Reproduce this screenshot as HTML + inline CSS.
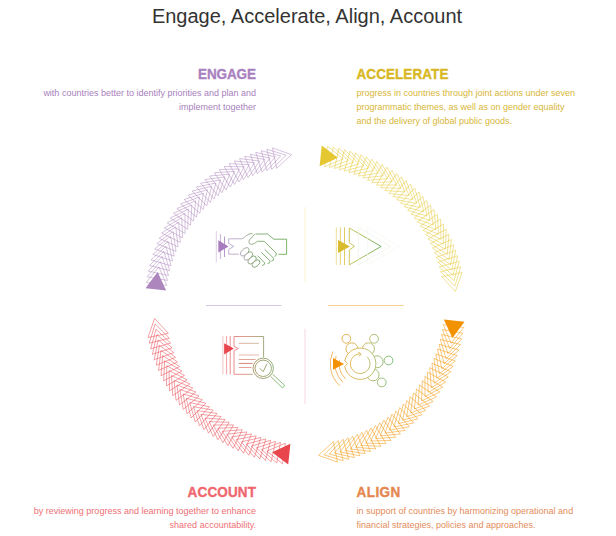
<!DOCTYPE html>
<html><head><meta charset="utf-8">
<style>
html,body{margin:0;padding:0;background:#fff;}
body{width:616px;height:536px;position:relative;overflow:hidden;font-family:"Liberation Sans",sans-serif;}
.t{position:absolute;white-space:nowrap;}
.title{left:-1px;width:616px;text-align:center;top:4.2px;font-size:20px;line-height:24px;color:#333;}
.h{font-size:13.5px;line-height:16px;font-weight:bold;-webkit-text-stroke:0.35px currentColor;transform:scaleY(1.065);transform-origin:0 12.7px;}
.b{font-size:9px;line-height:14px;}
.r{text-align:right;right:360px;}
.l{left:356.5px;}
.pu{color:#a981bf}
.ye{color:#d8b822}
.or{color:#e5874c}
.rd{color:#ef666e}
.pub{color:#a87fbd}
.yeb{color:#d8b638}
.orb{color:#e38c5a}
.rdb{color:#ee6f75}
svg{position:absolute;left:0;top:0;}
</style></head><body>
<div class="t title">Engage, Accelerate, Align, Account</div>

<div class="t h r pu" style="top:66.7px;letter-spacing:-0.1px;right:360.1px">ENGAGE</div>
<div class="t b r pub" style="top:85.9px">with countries better to identify priorities and plan and<br>implement together</div>

<div class="t h l ye" style="top:66.7px;letter-spacing:0.07px">ACCELERATE</div>
<div class="t b l yeb" style="top:85.9px">progress in countries through joint actions under seven<br>programmatic themes, as well as on gender equality<br>and the delivery of global public goods.</div>

<div class="t h r rd" style="top:484.9px;letter-spacing:0.15px;right:359.85px">ACCOUNT</div>
<div class="t b r rdb" style="top:503.9px">by reviewing progress and learning together to enhance<br>shared accountability.</div>

<div class="t h l or" style="top:484.9px;letter-spacing:0.45px">ALIGN</div>
<div class="t b l orb" style="top:503.9px">in support of countries by harmonizing operational and<br>financial strategies, policies and approaches.</div>

<svg width="616" height="536" viewBox="0 0 616 536">
<defs>
<linearGradient id="gH" x1="228" y1="0" x2="287" y2="0" gradientUnits="userSpaceOnUse"><stop offset="0" stop-color="#bea6d0"/><stop offset="0.17" stop-color="#b6a6c4"/><stop offset="0.31" stop-color="#9ea494"/><stop offset="0.47" stop-color="#80a870"/><stop offset="1" stop-color="#6aac5a"/></linearGradient>
<linearGradient id="gA" x1="349" y1="0" x2="382" y2="0" gradientUnits="userSpaceOnUse"><stop offset="0" stop-color="#c9c048"/><stop offset="1" stop-color="#5fa94f"/></linearGradient>
<linearGradient id="gD" x1="234" y1="0" x2="264" y2="0" gradientUnits="userSpaceOnUse"><stop offset="0" stop-color="#ea8080"/><stop offset="0.5" stop-color="#d09880"/><stop offset="1" stop-color="#98a070"/></linearGradient>
<linearGradient id="gT1" x1="239" y1="0" x2="259" y2="0" gradientUnits="userSpaceOnUse"><stop offset="0" stop-color="#e3a398"/><stop offset="1" stop-color="#c8b898"/></linearGradient>
<linearGradient id="gM" x1="253" y1="0" x2="284" y2="0" gradientUnits="userSpaceOnUse"><stop offset="0" stop-color="#a89060"/><stop offset="0.5" stop-color="#90a068"/><stop offset="1" stop-color="#78c070"/></linearGradient>
<linearGradient id="gL" x1="341" y1="0" x2="393" y2="0" gradientUnits="userSpaceOnUse"><stop offset="0" stop-color="#e6a840"/><stop offset="0.35" stop-color="#d4b450"/><stop offset="0.65" stop-color="#a8b868"/><stop offset="1" stop-color="#6ab86a"/></linearGradient>
</defs>
<!-- divider lines -->
<line x1="206" y1="305.5" x2="281.6" y2="305.5" stroke="#d9c6e6" stroke-width="1"/>
<line x1="328" y1="305.5" x2="403.6" y2="305.5" stroke="#f8d191" stroke-width="1"/>
<line x1="305" y1="207" x2="305" y2="282" stroke="#fbf0cf" stroke-width="1"/>
<line x1="305" y1="328.7" x2="305" y2="404" stroke="#fbd9de" stroke-width="1"/>

<path d="M463.81 327.51L443.22 324.59L451.09 343.18ZM462.90 333.22L442.42 329.56L449.62 348.42ZM461.78 338.89L441.45 334.49L447.96 353.60ZM460.46 344.52L440.30 339.39L446.11 358.72ZM458.93 350.10L438.97 344.25L444.09 363.77ZM457.20 355.61L437.47 349.05L441.88 368.75ZM455.28 361.07L435.79 353.80L439.49 373.64ZM453.16 366.45L433.95 358.48L436.93 378.44ZM450.85 371.75L431.94 363.09L434.20 383.15ZM448.35 376.96L429.76 367.63L431.29 387.76ZM445.66 382.08L427.42 372.09L428.23 392.26ZM442.79 387.10L424.93 376.46L425.00 396.64ZM439.74 392.02L422.27 380.73L421.62 400.91ZM436.52 396.82L419.47 384.91L418.09 405.05ZM433.13 401.50L416.51 388.99L414.41 409.06ZM429.56 406.05L413.41 392.95L410.59 412.94ZM425.84 410.48L410.17 396.80L406.63 416.67ZM421.96 414.77L406.79 400.53L402.54 420.26ZM417.93 418.91L403.28 404.14L398.32 423.70ZM413.75 422.91L399.65 407.62L393.98 426.99ZM409.43 426.75L395.89 410.96L389.52 430.12ZM404.97 430.44L392.01 414.17L384.96 433.09ZM400.38 433.96L388.01 417.23L380.29 435.88ZM395.67 437.31L383.92 420.15L375.52 438.51ZM390.85 440.49L379.71 422.92L370.67 440.97ZM385.91 443.50L375.41 425.54L365.72 443.25ZM380.86 446.33L371.02 428.00L360.70 445.35ZM375.72 448.97L366.55 430.30L355.60 447.26ZM370.48 451.43L361.99 432.44L350.44 448.99ZM365.16 453.69L357.36 434.41L345.22 450.54ZM359.76 455.76L352.66 436.21L339.95 451.89ZM354.29 457.64L347.90 437.84L334.63 453.06ZM348.76 459.32L343.08 439.30L329.28 454.03ZM343.17 460.79L338.22 440.59L323.89 454.81ZM337.53 462.07L333.31 441.70L318.48 455.39Z" fill="none" stroke="#f39200" stroke-width="0.5" stroke-linejoin="miter"/>
<path d="M464.52 321.77L443.84 319.59L452.37 337.88Z" fill="#f39200"/>
<path d="M282.49 463.81L285.41 443.22L266.82 451.09ZM276.78 462.90L280.44 442.42L261.58 449.62ZM271.11 461.78L275.51 441.45L256.40 447.96ZM265.48 460.46L270.61 440.30L251.28 446.11ZM259.90 458.93L265.75 438.97L246.23 444.09ZM254.39 457.20L260.95 437.47L241.25 441.88ZM248.93 455.28L256.20 435.79L236.36 439.49ZM243.55 453.16L251.52 433.95L231.56 436.93ZM238.25 450.85L246.91 431.94L226.85 434.20ZM233.04 448.35L242.37 429.76L222.24 431.29ZM227.92 445.66L237.91 427.42L217.74 428.23ZM222.90 442.79L233.54 424.93L213.36 425.00ZM217.98 439.74L229.27 422.27L209.09 421.62ZM213.18 436.52L225.09 419.47L204.95 418.09ZM208.50 433.13L221.01 416.51L200.94 414.41ZM203.95 429.56L217.05 413.41L197.06 410.59ZM199.52 425.84L213.20 410.17L193.33 406.63ZM195.23 421.96L209.47 406.79L189.74 402.54ZM191.09 417.93L205.86 403.28L186.30 398.32ZM187.09 413.75L202.38 399.65L183.01 393.98ZM183.25 409.43L199.04 395.89L179.88 389.52ZM179.56 404.97L195.83 392.01L176.91 384.96ZM176.04 400.38L192.77 388.01L174.12 380.29ZM172.69 395.67L189.85 383.92L171.49 375.52ZM169.51 390.85L187.08 379.71L169.03 370.67ZM166.50 385.91L184.46 375.41L166.75 365.72ZM163.67 380.86L182.00 371.02L164.65 360.70ZM161.03 375.72L179.70 366.55L162.74 355.60ZM158.57 370.48L177.56 361.99L161.01 350.44ZM156.31 365.16L175.59 357.36L159.46 345.22ZM154.24 359.76L173.79 352.66L158.11 339.95ZM152.36 354.29L172.16 347.90L156.94 334.63ZM150.68 348.76L170.70 343.08L155.97 329.28ZM149.21 343.17L169.41 338.22L155.19 323.89ZM147.93 337.53L168.30 333.31L154.61 318.48Z" fill="none" stroke="#e9454d" stroke-width="0.5" stroke-linejoin="miter"/>
<path d="M288.23 464.52L290.41 443.84L272.12 452.37Z" fill="#e9454d"/>
<path d="M146.19 282.49L166.78 285.41L158.91 266.82ZM147.10 276.78L167.58 280.44L160.38 261.58ZM148.22 271.11L168.55 275.51L162.04 256.40ZM149.54 265.48L169.70 270.61L163.89 251.28ZM151.07 259.90L171.03 265.75L165.91 246.23ZM152.80 254.39L172.53 260.95L168.12 241.25ZM154.72 248.93L174.21 256.20L170.51 236.36ZM156.84 243.55L176.05 251.52L173.07 231.56ZM159.15 238.25L178.06 246.91L175.80 226.85ZM161.65 233.04L180.24 242.37L178.71 222.24ZM164.34 227.92L182.58 237.91L181.77 217.74ZM167.21 222.90L185.07 233.54L185.00 213.36ZM170.26 217.98L187.73 229.27L188.38 209.09ZM173.48 213.18L190.53 225.09L191.91 204.95ZM176.87 208.50L193.49 221.01L195.59 200.94ZM180.44 203.95L196.59 217.05L199.41 197.06ZM184.16 199.52L199.83 213.20L203.37 193.33ZM188.04 195.23L203.21 209.47L207.46 189.74ZM192.07 191.09L206.72 205.86L211.68 186.30ZM196.25 187.09L210.35 202.38L216.02 183.01ZM200.57 183.25L214.11 199.04L220.48 179.88ZM205.03 179.56L217.99 195.83L225.04 176.91ZM209.62 176.04L221.99 192.77L229.71 174.12ZM214.33 172.69L226.08 189.85L234.48 171.49ZM219.15 169.51L230.29 187.08L239.33 169.03ZM224.09 166.50L234.59 184.46L244.28 166.75ZM229.14 163.67L238.98 182.00L249.30 164.65ZM234.28 161.03L243.45 179.70L254.40 162.74ZM239.52 158.57L248.01 177.56L259.56 161.01ZM244.84 156.31L252.64 175.59L264.78 159.46ZM250.24 154.24L257.34 173.79L270.05 158.11ZM255.71 152.36L262.10 172.16L275.37 156.94ZM261.24 150.68L266.92 170.70L280.72 155.97ZM266.83 149.21L271.78 169.41L286.11 155.19ZM272.47 147.93L276.69 168.30L291.52 154.61Z" fill="none" stroke="#ac86bc" stroke-width="0.5" stroke-linejoin="miter"/>
<path d="M145.48 288.23L166.16 290.41L157.63 272.12Z" fill="#ac86bc"/>
<path d="M327.51 146.19L324.59 166.78L343.18 158.91ZM333.22 147.10L329.56 167.58L348.42 160.38ZM338.89 148.22L334.49 168.55L353.60 162.04ZM344.52 149.54L339.39 169.70L358.72 163.89ZM350.10 151.07L344.25 171.03L363.77 165.91ZM355.61 152.80L349.05 172.53L368.75 168.12ZM361.07 154.72L353.80 174.21L373.64 170.51ZM366.45 156.84L358.48 176.05L378.44 173.07ZM371.75 159.15L363.09 178.06L383.15 175.80ZM376.96 161.65L367.63 180.24L387.76 178.71ZM382.08 164.34L372.09 182.58L392.26 181.77ZM387.10 167.21L376.46 185.07L396.64 185.00ZM392.02 170.26L380.73 187.73L400.91 188.38ZM396.82 173.48L384.91 190.53L405.05 191.91ZM401.50 176.87L388.99 193.49L409.06 195.59ZM406.05 180.44L392.95 196.59L412.94 199.41ZM410.48 184.16L396.80 199.83L416.67 203.37ZM414.77 188.04L400.53 203.21L420.26 207.46ZM418.91 192.07L404.14 206.72L423.70 211.68ZM422.91 196.25L407.62 210.35L426.99 216.02ZM426.75 200.57L410.96 214.11L430.12 220.48ZM430.44 205.03L414.17 217.99L433.09 225.04ZM433.96 209.62L417.23 221.99L435.88 229.71ZM437.31 214.33L420.15 226.08L438.51 234.48ZM440.49 219.15L422.92 230.29L440.97 239.33ZM443.50 224.09L425.54 234.59L443.25 244.28ZM446.33 229.14L428.00 238.98L445.35 249.30ZM448.97 234.28L430.30 243.45L447.26 254.40ZM451.43 239.52L432.44 248.01L448.99 259.56ZM453.69 244.84L434.41 252.64L450.54 264.78ZM455.76 250.24L436.21 257.34L451.89 270.05ZM457.64 255.71L437.84 262.10L453.06 275.37ZM459.32 261.24L439.30 266.92L454.03 280.72ZM460.79 266.83L440.59 271.78L454.81 286.11ZM462.07 272.47L441.70 276.69L455.39 291.52Z" fill="none" stroke="#e5c731" stroke-width="0.5" stroke-linejoin="miter"/>
<path d="M321.77 145.48L319.59 166.16L337.88 157.63Z" fill="#e5c731"/>

<!-- handshake icon -->
<g fill="none" stroke-width="0.9">
<line x1="216.3" y1="231" x2="216.3" y2="262.5" stroke="#dccbe6"/>
<line x1="220.4" y1="234" x2="220.4" y2="259" stroke="#c2a6d3"/>
<line x1="224.5" y1="236.5" x2="224.5" y2="257" stroke="#b08fc5"/>
<path d="M218.3 240.2L228.6 246.4L218.3 252.6Z" fill="#a97bbf" stroke="none"/>
<g stroke="url(#gH)">
<path d="M238.8 254.2H228.7V249.3L233.9 246.4L228.7 243.5V238.8H241.6C244 238.8 247 233.6 251 233.6H252.5"/>
<path d="M255.6 234H267.5L273.9 239.2H286.6V254.3H278.4"/>
<path d="M254.9 234L249.6 239.8Q247.5 243.8 251.6 244.4Q254.5 244 257.5 241.3H264.2L276.1 253Q277 255.8 274.6 256.6"/>
<path d="M264.6 249.3L273.6 258.2Q274 261 271.4 261"/>
<path d="M261.2 252.3L270.2 261Q270 263.6 267.5 263.6"/>
<path d="M257.5 255.6L264.8 263Q264.6 265.5 262.2 265.3"/>
<ellipse cx="256" cy="263.6" rx="4.6" ry="2.7" transform="rotate(-42 256 263.6)" fill="#fff"/>
<ellipse cx="252.1" cy="260" rx="5" ry="2.8" transform="rotate(-42 252.1 260)" fill="#fff"/>
<ellipse cx="248.3" cy="256" rx="5.2" ry="2.9" transform="rotate(-42 248.3 256)" fill="#fff"/>
<ellipse cx="244.7" cy="251.8" rx="5.2" ry="2.9" transform="rotate(-42 244.7 251.8)" fill="#fff"/>
</g>
</g>

<!-- accelerate icon -->
<g fill="none" stroke-width="0.9">
<line x1="336.3" y1="227.4" x2="336.3" y2="265" stroke="#ecd98a"/>
<line x1="340.4" y1="227.4" x2="340.4" y2="265" stroke="#e3cc64"/>
<line x1="344.5" y1="227.4" x2="344.5" y2="265" stroke="#dcc650"/>
<path d="M338 239.9L349.9 246.4L338 253Z" fill="#d8bc2e" stroke="none"/>
<path d="M349.3 228V242.7L354.4 246.4L349.3 250.1V264.9L381.1 246.4Z" stroke="url(#gA)"/>
<path d="M358.4 227.4V265L390.2 246.4Z" stroke="#eaf2e4" stroke-width="0.6"/>
<path d="M367.5 227.4V265L399.3 246.4Z" stroke="#f2f7ef" stroke-width="0.6"/>
</g>

<!-- account icon -->
<g fill="none" stroke-width="0.9">
<line x1="222.9" y1="336" x2="222.9" y2="374.5" stroke="#f6b9bd"/>
<line x1="226.6" y1="336" x2="226.6" y2="374.5" stroke="#f0979c"/>
<line x1="230.2" y1="336" x2="230.2" y2="374.5" stroke="#ec8288"/>
<path d="M224.1 343.2L233.9 348.5L224.1 354.4Z" fill="#e9454d" stroke="none"/>
<path d="M252.7 374.3H234V350.6L238.4 348.5L234 346.4V336.5H263.6V357.4" stroke="url(#gD)"/>
<line x1="238.8" y1="343.3" x2="259" y2="343.3" stroke="url(#gT1)"/>
<line x1="238.8" y1="355" x2="259" y2="355" stroke="#e3b3a3"/>
<line x1="238.8" y1="359.5" x2="255.6" y2="359.5" stroke="#dc9c8c"/>
<line x1="238.8" y1="363.4" x2="252.7" y2="363.4" stroke="#cf7868"/>
<line x1="238.8" y1="367.5" x2="251.4" y2="367.5" stroke="#e29a90"/>
<g stroke="url(#gM)">
<circle cx="263.2" cy="368.3" r="10.2"/>
<circle cx="263.2" cy="368.3" r="8.2"/>
<path d="M259.8 368.3L263.2 371.7L267 363.7"/>
<path d="M270.6 376.4L282.2 387.6Q284.4 387.4 284.4 385.2L272.6 374.2"/>
</g>
</g>

<!-- align icon -->
<g fill="none" stroke-width="0.9" stroke="url(#gL)">
<circle cx="351.96" cy="348.83" r="6"/>
<circle cx="368.44" cy="348.83" r="6"/>
<circle cx="377.09" cy="361.78" r="6"/>
<circle cx="373.03" cy="374.85" r="6"/>
<path d="M344.76 360.84A15.7 15.7 0 1 1 344.76 366.56L347.6 363.7Z" fill="#fff"/>
<path d="M367.13 356.77A9.8 9.8 0 1 1 360.2 353.9M358.2 352.3L361.2 354L359 356.6"/>
<circle cx="346.38" cy="338.77" r="4.4"/>
<circle cx="374.02" cy="338.77" r="4.4"/>
<circle cx="388.52" cy="360.47" r="4.4"/>
<circle cx="381.71" cy="382.4" r="4.4"/>
</g>
<g fill="none" stroke="#f2a43a" stroke-width="0.8">
<path d="M332.79 351.5A30 30 0 0 0 339.74 385.64"/>
<path d="M336.14 355.88A25.3 25.3 0 0 0 342.82 382.08"/>
<path d="M339.52 360.05A21 21 0 0 0 345.61 378.81"/>
</g>
<path d="M333 358L344 363.9L333 369.8Z" fill="#f39200"/>
</svg>
</body></html>
